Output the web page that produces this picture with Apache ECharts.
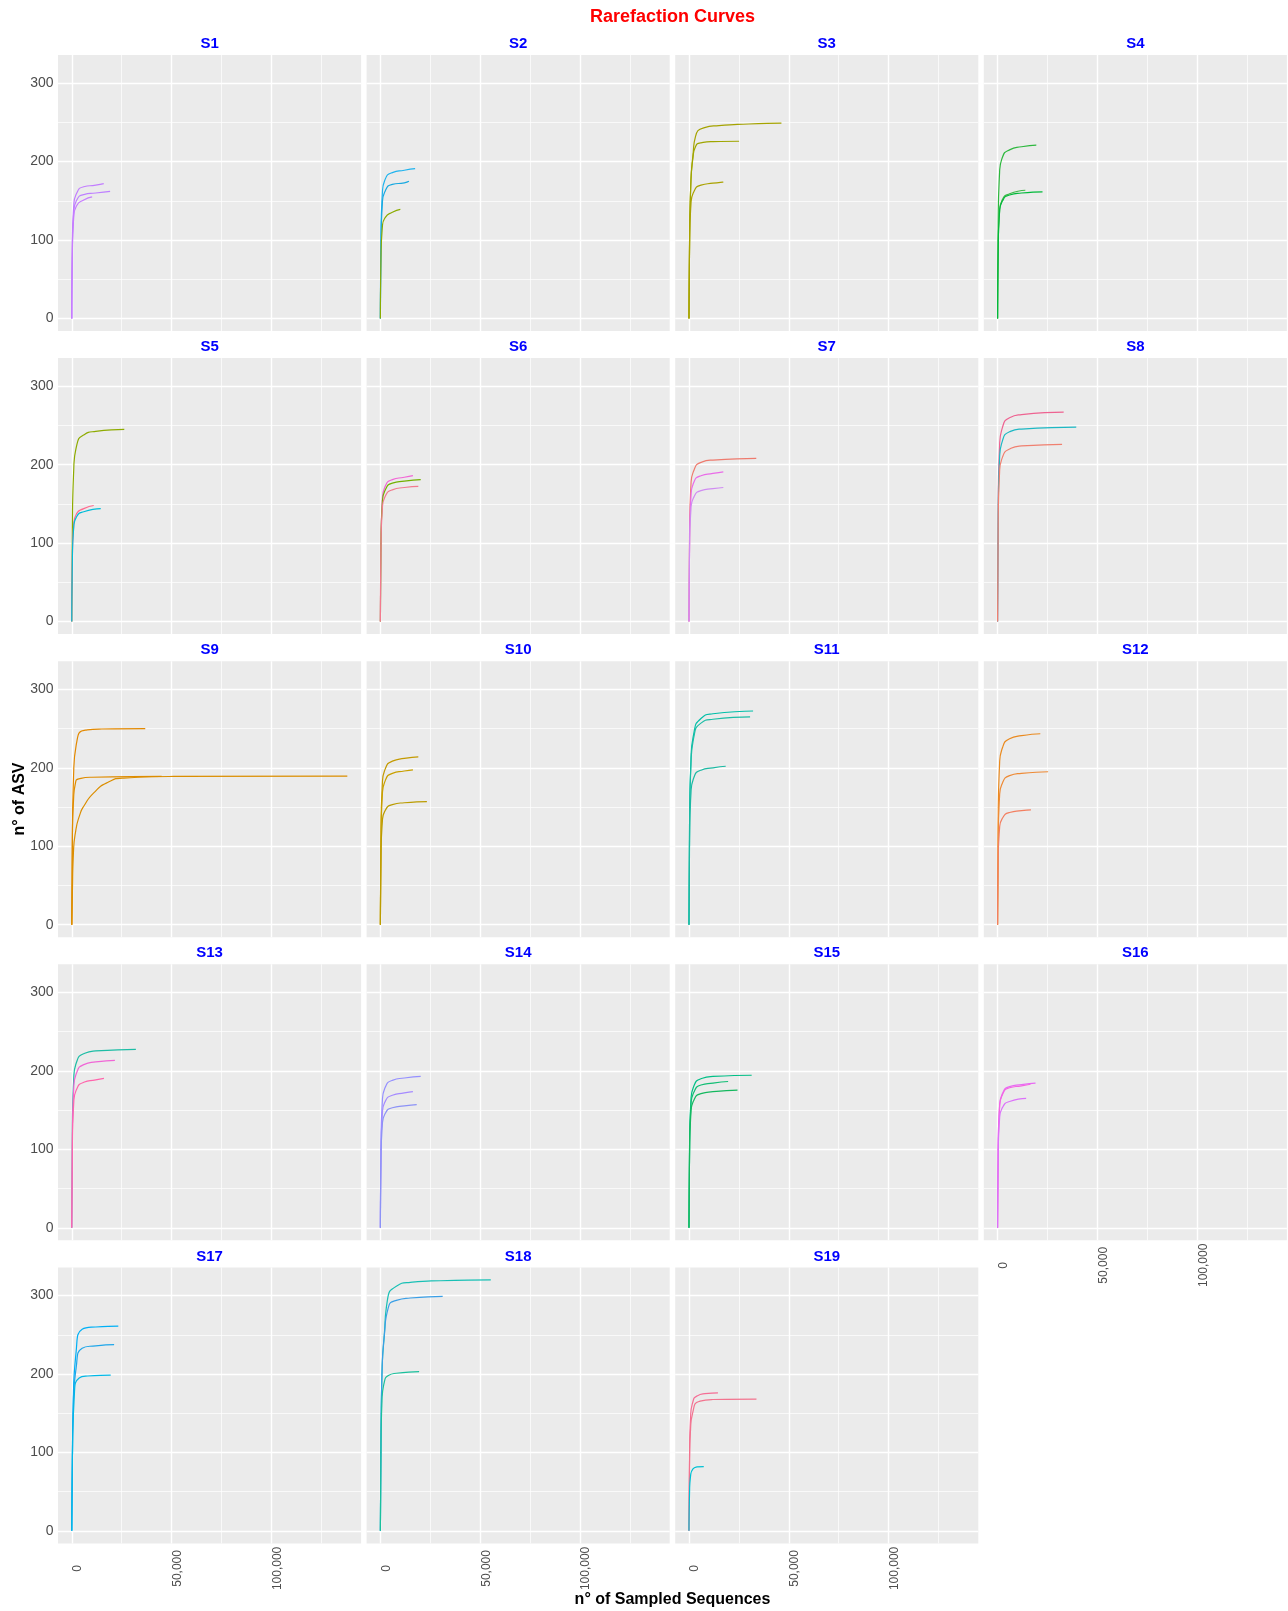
<!DOCTYPE html>
<html>
<head>
<meta charset="utf-8">
<script src="https://cdn.jsdelivr.net/npm/echarts@6/dist/echarts.min.js"></script>
<style>
html,body{margin:0;padding:0;background:#fff;}
#chart{width:1288px;height:1611px;}
</style>
</head>
<body>
<div id="chart"></div>
<script>
// ---------- data ----------
const chartTitle = 'Rarefaction Curves';
const xAxisTitle = 'n° of Sampled Sequences';
const yAxisTitle = 'n° of ASV';
const panelTitles = ['S1','S2','S3','S4','S5','S6','S7','S8','S9','S10','S11','S12','S13','S14','S15','S16','S17','S18','S19'];
const xTickValues = [0, 50000, 100000];
const xMinorValues = [25000, 75000, 125000];
const yTickValues = [0, 100, 200, 300];
const yMinorValues = [50, 150, 250];

// each panel: three rarefaction curves as [sampled sequences, ASVs]
const s1 = [
  [[0,0],[300,95],[1000,144],[2500,160],[6000,168],[12000,170],[16000,172]],
  [[0,0],[300,89],[1000,136],[2500,151],[6000,158],[12000,160],[19200,162]],
  [[0,0],[300,85],[1000,130],[2500,144],[6000,151],[10200,155]]
];
const s2 = [
  [[0,0],[300,105],[1000,160],[2500,178],[6000,186],[12000,189],[17400,191]],
  [[0,0],[300,96],[1000,147],[2500,163],[6000,171],[12000,173],[14300,175]],
  [[0,0],[300,76],[1000,117],[2500,129],[6000,135.5],[10000,139]]
];
const s3 = [
  [[0,0],[300,100],[900,170],[2100,211],[3250,232],[7400,243],[15000,246],[30000,248],[46300,249]],
  [[0,0],[300,100],[900,170],[2000,205],[3250,219],[6000,224],[12000,225.5],[25100,226]],
  [[0,0],[300,95],[1000,146],[2500,162],[6000,170],[12000,172.5],[17200,174]]
];
const s4 = [
  [[0,0],[300,122],[1000,186],[2500,206],[6000,215],[12000,219],[19400,221]],
  [[0,0],[300,90],[1000,137],[2500,152],[6000,159],[13900,163.5]],
  [[0,0],[300,89],[1000,136],[2500,150],[6000,157.5],[12000,160],[22500,161.5]]
];
const s5 = [
  [[0,0],[300,120],[1000,195],[2500,225],[6000,238],[12000,242.5],[26300,245]],
  [[0,0],[300,81],[1000,124],[2500,138],[6000,144],[11000,148]],
  [[0,0],[300,79],[1000,121],[2500,134],[6000,140],[14500,144]]
];
const s6 = [
  [[0,0],[300,102],[1000,156],[2500,173],[6000,181],[12000,184],[16300,186]],
  [[0,0],[300,100],[1000,152],[2500,168],[6000,176.5],[12000,179],[20200,181]],
  [[0,0],[300,95],[1000,145],[2500,160],[6000,168],[12000,171],[19000,172.5]]
];
const s7 = [
  [[0,0],[300,114],[1000,175],[2500,193],[6000,203],[12000,206],[33700,208]],
  [[0,0],[300,105],[1000,160],[2500,178],[6000,186],[12000,189],[17200,191]],
  [[0,0],[300,94],[1000,144],[2500,159],[6000,167],[12000,169.5],[17200,171]]
];
const s8 = [
  [[0,0],[300,147],[1000,224],[2500,248],[6000,260],[12000,264],[33100,267]],
  [[0,0],[300,136],[1000,208],[2500,231],[6000,242],[12000,245.5],[39400,248]],
  [[0,0],[300,124],[1000,190],[2500,210],[6000,220],[12000,224],[32300,226]]
];
const s9 = [
  [[0,0],[300,110],[900,190],[2700,236],[6800,248],[15000,249.5],[36800,250]],
  [[0,0],[300,110],[900,160],[1800,180],[3500,186],[10000,188],[45000,189]],
  [[0,0],[300,40],[800,90],[2000,120],[4000,140],[6000,151],[11000,168],[17700,181],[26000,187],[51000,189],[138000,189.5]]
];
const s10 = [
  [[0,0],[300,118],[1000,180],[2500,199],[6000,208.5],[12000,212],[19000,214]],
  [[0,0],[300,109],[1000,166],[2500,184],[6000,193],[12000,196],[16300,197.5]],
  [[0,0],[300,86],[1000,132],[2500,146],[6000,153],[12000,155.5],[23300,157]]
];
const s11 = [
  [[0,0],[300,130],[1000,210],[2500,245],[6000,263],[12000,269],[32100,272.5]],
  [[0,0],[300,130],[1000,205],[2500,240],[6000,257],[12000,262],[30600,265]],
  [[0,0],[300,110],[1000,168],[2500,188],[6000,197],[12000,200],[18400,202]]
];
const s12 = [
  [[0,0],[300,134],[1000,205],[2500,226],[6000,237],[12000,241],[21400,243.5]],
  [[0,0],[300,107],[1000,164],[2500,181],[6000,190],[12000,193],[25300,195]],
  [[0,0],[300,81],[1000,123],[2500,136],[6000,143],[12000,145.5],[16700,146.5]]
];
const s13 = [
  [[0,0],[300,125],[1000,191],[2500,212],[6000,222],[12000,225.5],[32100,227.5]],
  [[0,0],[300,117],[1000,179],[2500,198],[6000,208],[12000,211.5],[21600,213.5]],
  [[0,0],[300,105],[1000,160],[2500,177],[6000,185.5],[12000,188.5],[16100,190.5]]
];
const s14 = [
  [[0,0],[300,106],[1000,162],[2500,179.5],[6000,188],[12000,191],[20200,193]],
  [[0,0],[300,96],[1000,146],[2500,161.5],[6000,169],[12000,172],[16300,173.5]],
  [[0,0],[300,86],[1000,132],[2500,146],[6000,153],[12000,155.5],[18200,157]]
];
const s15 = [
  [[0,0],[300,107],[1000,163],[2500,181],[6000,190],[12000,193],[31400,194.5]],
  [[0,0],[300,103],[1000,157],[2500,173],[6000,182],[12000,184.5],[19600,186.5]],
  [[0,0],[300,96],[1000,147],[2500,163],[6000,171],[12000,173.5],[24300,175.5]]
];
const s16 = [
  [[0,0],[300,101],[1000,155],[2500,171.5],[6000,180],[12000,182.5],[19000,184.5]],
  [[0,0],[300,100],[1000,154],[2500,170],[6000,178.5],[12000,181],[16500,183]],
  [[0,0],[300,91],[1000,139],[2500,153.5],[6000,161],[14300,165]]
];
const s17 = [
  [[0,0],[300,90],[750,165],[2200,229],[5200,257],[12000,260],[23300,261]],
  [[0,0],[300,90],[750,160],[2200,208],[5200,233],[12000,236],[21200,237.5]],
  [[0,0],[300,90],[1300,174],[3700,195],[8000,197.5],[19500,198.5]]
];
const s18 = [
  [[0,0],[300,120],[800,200],[2000,251],[3500,294],[8000,312],[15000,317],[30000,319],[55300,320]],
  [[0,0],[300,120],[800,200],[2000,250],[4000,285],[8000,294],[15000,297],[31200,299]],
  [[0,0],[300,110],[800,165],[2000,190],[4000,198],[8000,201],[19400,203]]
];
const s19 = [
  [[0,0],[300,100],[800,145],[2000,165],[4000,172],[8000,175],[14500,176]],
  [[0,0],[300,90],[800,130],[2000,152],[5000,165],[12000,167.5],[33800,168]],
  [[0,0],[300,50],[800,70],[2000,79],[4000,81.5],[7400,82]]
];
const panelCurves = [s1,s2,s3,s4,s5,s6,s7,s8,s9,s10,s11,s12,s13,s14,s15,s16,s17,s18,s19];

const curveColors = [
  ['#C27DFF','#BE80FF','#C77CFF'],
  ['#1FB3EE','#19A9E0','#8AAB00'],
  ['#A5A300','#9FA600','#AAA200'],
  ['#2DB83E','#3DB846','#00B93A'],
  ['#8EAB00','#FF6C91','#00BCD8'],
  ['#F265D6','#72B000','#F27A8E'],
  ['#EE7B6E','#E96CE8','#D08CF2'],
  ['#EE6391','#1DB8C4','#F08070'],
  ['#E38900','#DF8C00','#DB8E00'],
  ['#C49A00','#C9A000','#BB9C00'],
  ['#00BFA8','#1CBDA6','#1CB9A3'],
  ['#EA8A1F','#EE8A35','#F37F60'],
  ['#1DBDA5','#F066D6','#FF65AC'],
  ['#9590FF','#A58AFF','#8C92F6'],
  ['#00BF86','#11BE74','#14B85E'],
  ['#E76BF3','#F564E3','#DC71FA'],
  ['#00B0F6','#1EA6EA','#00B8E7'],
  ['#18C0B5','#3A9FE6','#1AC09C'],
  ['#F56E95','#F2748F','#00C1D4']
];

// ---------- layout ----------
const gridLeft0 = 58, gridTop0 = 55, colPitch = 308.6, rowPitch = 303.1;
const gridW = 303.1, gridH = 276;
const xRange = [-6900, 144900];
const yRange = [-16, 336];
const fontFam = '"Liberation Sans", Arial, Helvetica, sans-serif';

const grids = [], xAxes = [], yAxes = [], series = [], graphics = [];

const centered = {align: 'center', verticalAlign: 'middle', textAlign: 'center', textVerticalAlign: 'middle'};
graphics.push({
  type: 'text', x: 672.5, y: 17.5, z: 20,
  style: Object.assign({text: chartTitle, fill: '#FF0000', font: 'bold 18px ' + fontFam}, centered)
});
graphics.push({
  type: 'text', x: 20, y: 799, rotation: Math.PI / 2, z: 20,
  style: Object.assign({text: yAxisTitle, fill: '#000', font: 'bold 16px ' + fontFam}, centered)
});
graphics.push({
  type: 'text', x: 672.5, y: 1600, z: 20,
  style: Object.assign({text: xAxisTitle, fill: '#000', font: 'bold 16px ' + fontFam}, centered)
});

const fmt = v => Number(v).toLocaleString('en-US');

panelTitles.forEach((name, i) => {
  const row = Math.floor(i / 4), col = i % 4;
  const left = gridLeft0 + col * colPitch;
  const top = gridTop0 + row * rowPitch;
  const showX = i >= 15;
  const showY = col === 0;

  grids.push({
    left: left, top: top, width: gridW, height: gridH,
    show: true, backgroundColor: '#EBEBEB', borderWidth: 0
  });

  xAxes.push({
    type: 'value', gridIndex: i, min: xRange[0], max: xRange[1],
    axisLine: {show: false},
    splitLine: {show: false},
    axisTick: {show: showX, length: 3.5, lineStyle: {color: '#333', width: 1}, customValues: xTickValues},
    axisLabel: {
      show: showX, customValues: xTickValues, rotate: 90, align: 'center', verticalAlign: 'top',
      margin: 25, color: '#4D4D4D', fontSize: 12, fontFamily: fontFam, formatter: fmt
    }
  });
  yAxes.push({
    type: 'value', gridIndex: i, min: yRange[0], max: yRange[1],
    axisLine: {show: false},
    splitLine: {show: false},
    axisTick: {show: showY, length: 3.5, lineStyle: {color: '#333', width: 1}, customValues: yTickValues},
    axisLabel: {
      show: showY, customValues: yTickValues, margin: 4.5,
      color: '#4D4D4D', fontSize: 14, fontFamily: fontFam
    }
  });

  // panel gridlines drawn through the axis scales
  const glData = [];
  xMinorValues.forEach(v => glData.push({xAxis: v, lineStyle: {width: 0.7}}));
  yMinorValues.forEach(v => glData.push({yAxis: v, lineStyle: {width: 0.7}}));
  xTickValues.forEach(v => glData.push({xAxis: v, lineStyle: {width: 1.4}}));
  yTickValues.forEach(v => glData.push({yAxis: v, lineStyle: {width: 1.4}}));
  series.push({
    type: 'line', xAxisIndex: i, yAxisIndex: i, data: [], z: 1,
    silent: true, animation: false,
    markLine: {
      z: 1, silent: true, animation: false, symbol: ['none', 'none'],
      label: {show: false}, emphasis: {disabled: true},
      lineStyle: {color: '#FFFFFF', type: 'solid', width: 1.4},
      data: glData
    }
  });

  graphics.push({
    type: 'text', x: left + gridW / 2, y: top - 11, z: 20,
    style: Object.assign({text: name, fill: '#0000FF', font: 'bold 15px ' + fontFam}, centered)
  });

  panelCurves[i].forEach((pts, k) => {
    series.push({
      type: 'line', xAxisIndex: i, yAxisIndex: i, data: pts, z: 10,
      showSymbol: false, smooth: 0.6,
      lineStyle: {color: curveColors[i][k], width: 1.2},
      silent: true, animation: false
    });
  });
});

const chart = echarts.init(document.getElementById('chart'), null, {renderer: 'canvas'});
chart.setOption({
  backgroundColor: '#FFFFFF',
  animation: false,
  grid: grids,
  xAxis: xAxes,
  yAxis: yAxes,
  series: series,
  graphic: graphics
});
</script>
</body>
</html>
